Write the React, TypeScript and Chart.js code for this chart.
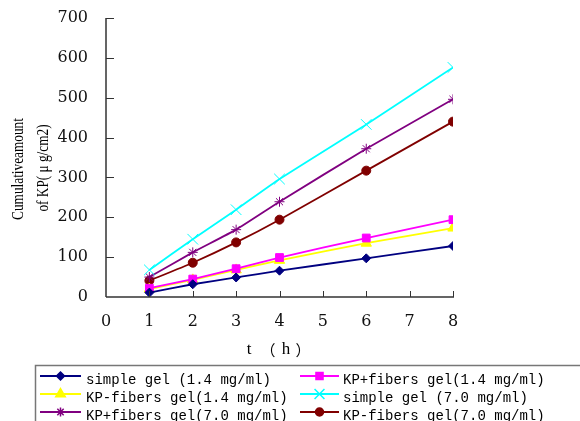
import React, { useEffect, useRef } from 'react';
import { Chart, registerables } from 'chart.js';
Chart.register(...registerables);

const hours = [1, 2, 3, 4, 6, 8];
const simpleGel14 = [11, 32, 49, 66, 97, 128];
const kpPlusFibers14 = [22, 45, 71, 99, 148, 194];
const kpMinusFibers14 = [20, 43, 68, 92, 135, 173];
const simpleGel70 = [68, 145, 219, 296, 433, 576];
const kpPlusFibers70 = [50, 112, 169, 239, 372, 496];
const kpMinusFibers70 = [41, 86, 137, 194, 317, 440];

const seriesLabels = [
  'simple gel (1.4 mg/ml)',
  'KP+fibers gel(1.4 mg/ml)',
  'KP-fibers gel(1.4 mg/ml)',
  'simple gel (7.0 mg/ml)',
  'KP+fibers gel(7.0 mg/ml)',
  'KP-fibers gel(7.0 mg/ml)',
];
const seriesValues = [simpleGel14, kpPlusFibers14, kpMinusFibers14, simpleGel70, kpPlusFibers70, kpMinusFibers70];
const seriesColors = ['#000080', '#FF00FF', '#FFFF00', '#00FFFF', '#800080', '#800000'];
const seriesPoints = ['rectRot', 'rect', 'triangle', 'crossRot', 'star', 'circle'];
const seriesRadius = [4.5, 5.5, 6, 7.5, 5, 4.5];

const yTitleLines = ['Cumulativeamount', 'of KP( μ g/cm2)'];
const xTitleParts = ['t', '（', 'h', '）'];

function drawMarker(ctx: CanvasRenderingContext2D, style: string, x: number, y: number, r: number, color: string) {
  ctx.save();
  ctx.fillStyle = color;
  ctx.strokeStyle = color;
  ctx.lineWidth = 1.5;
  ctx.beginPath();
  if (style === 'rectRot') {
    ctx.moveTo(x, y - r); ctx.lineTo(x + r, y); ctx.lineTo(x, y + r); ctx.lineTo(x - r, y); ctx.closePath(); ctx.fill(); ctx.stroke();
  } else if (style === 'rect') {
    const s = r * Math.SQRT1_2;
    ctx.rect(x - s, y - s, 2 * s, 2 * s); ctx.fill(); ctx.stroke();
  } else if (style === 'triangle') {
    const w = r * Math.sqrt(3) / 2;
    ctx.moveTo(x, y - r); ctx.lineTo(x + w, y + r / 2); ctx.lineTo(x - w, y + r / 2); ctx.closePath(); ctx.fill(); ctx.stroke();
  } else if (style === 'crossRot') {
    const d = r * Math.SQRT1_2;
    ctx.moveTo(x - d, y - d); ctx.lineTo(x + d, y + d); ctx.moveTo(x + d, y - d); ctx.lineTo(x - d, y + d); ctx.stroke();
  } else if (style === 'star') {
    const d = r * Math.SQRT1_2;
    ctx.moveTo(x - d, y - d); ctx.lineTo(x + d, y + d); ctx.moveTo(x + d, y - d); ctx.lineTo(x - d, y + d);
    ctx.moveTo(x, y - r); ctx.lineTo(x, y + r); ctx.moveTo(x - r, y); ctx.lineTo(x + r, y); ctx.stroke();
  } else {
    ctx.arc(x, y, r, 0, Math.PI * 2); ctx.fill(); ctx.stroke();
  }
  ctx.restore();
}

const overlay = {
  id: 'overlay',
  afterDraw(chart: any) {
    const ctx: CanvasRenderingContext2D = chart.ctx;
    const { left, top, bottom } = chart.chartArea;
    const xs = chart.scales.x;
    const ys = chart.scales.y;
    ctx.save();
    // axes
    ctx.strokeStyle = '#333';
    ctx.lineWidth = 1.5;
    ctx.beginPath();
    ctx.moveTo(left, top); ctx.lineTo(left, bottom);
    ctx.moveTo(left, bottom); ctx.lineTo(xs.getPixelForValue(8) + 1, bottom);
    ctx.stroke();
    ctx.lineWidth = 1;
    ctx.beginPath();
    for (let v = 100; v <= 700; v += 100) {
      const y = Math.round(ys.getPixelForValue(v)) + 0.5;
      ctx.moveTo(left, y); ctx.lineTo(left + 8, y);
    }
    for (let v = 1; v <= 8; v++) {
      const x = Math.round(xs.getPixelForValue(v)) + 0.5;
      ctx.moveTo(x, bottom); ctx.lineTo(x, bottom - 6);
    }
    ctx.stroke();

    // y title
    ctx.fillStyle = '#000';
    ctx.font = '16px "Liberation Serif"';
    ctx.textAlign = 'center';
    ctx.textBaseline = 'middle';
    const tx = [19, 44];
    const ty = [169, 168];
    yTitleLines.forEach((t, i) => {
      ctx.save();
      ctx.translate(tx[i], ty[i]);
      ctx.rotate(-Math.PI / 2);
      ctx.scale(0.83, 1);
      ctx.fillText(t, 0, 0);
      ctx.restore();
    });

    // x title
    const xPos = [249, 268, 286, 303];
    xTitleParts.forEach((p, i) => {
      ctx.font = i % 2 === 0 ? '17px "Liberation Serif"' : '15px "Noto Sans CJK SC"';
      ctx.fillText(p, xPos[i], 350);
    });

    // legend
    ctx.strokeStyle = '#777';
    ctx.lineWidth = 1.5;
    ctx.strokeRect(35.5, 365.5, 560, 70);
    const colLine = [[40, 81], [300, 339]];
    const colText = [86, 343];
    const rowY = [376, 394, 412];
    ctx.font = '14px "Liberation Mono"';
    ctx.textAlign = 'left';
    seriesLabels.forEach((lab, i) => {
      const c = i % 2;
      const r = Math.floor(i / 2);
      const y = rowY[r];
      ctx.strokeStyle = seriesColors[i];
      ctx.lineWidth = 2;
      ctx.beginPath();
      ctx.moveTo(colLine[c][0], y); ctx.lineTo(colLine[c][1], y);
      ctx.stroke();
      drawMarker(ctx, seriesPoints[i], (colLine[c][0] + colLine[c][1]) / 2, y, seriesRadius[i] - 0.5, seriesColors[i]);
      ctx.fillStyle = '#000';
      ctx.textBaseline = 'middle';
      ctx.fillText(lab, colText[c], y + 4);
    });
    ctx.restore();
  },
};

export default function App() {
  const ref = useRef<HTMLCanvasElement>(null);
  useEffect(() => {
    document.body.style.margin = '0';
    const chart = new Chart(ref.current!, {
      type: 'line',
      data: {
        datasets: seriesLabels.map((label, i) => ({
          label,
          data: hours.map((h, j) => ({ x: h, y: seriesValues[i][j] })),
          borderColor: seriesColors[i],
          backgroundColor: seriesColors[i],
          borderWidth: 1.8,
          pointStyle: seriesPoints[i] as any,
          pointRadius: seriesRadius[i],
          pointBorderWidth: 1,
          tension: 0.15,
          fill: false,
        })),
      },
      options: {
        responsive: false,
        animation: false,
        devicePixelRatio: 1,
        layout: { padding: { left: 0, top: 18, right: 127, bottom: 0 } },
        plugins: { legend: { display: false }, tooltip: { enabled: false } },
        scales: {
          x: {
            type: 'linear',
            min: 0,
            max: 8,
            grid: { display: false, drawTicks: false },
            border: { display: false },
            ticks: { stepSize: 1, padding: 15, color: '#111', font: { family: 'DejaVu Serif', size: 16 } },
            afterFit: (s: any) => { s.height = 124; s.paddingLeft = 0; s.paddingRight = 0; },
          },
          y: {
            min: 0,
            max: 700,
            grid: { display: false, drawTicks: false },
            border: { display: false },
            ticks: { stepSize: 100, padding: 18, color: '#111', font: { family: 'DejaVu Serif', size: 16 } },
            afterFit: (s: any) => { s.width = 106; s.paddingTop = 0; s.paddingBottom = 0; },
          },
        },
      },
      plugins: [overlay],
    });
    return () => chart.destroy();
  }, []);
  return <canvas ref={ref} width={580} height={421} style={{ display: 'block' }} />;
}
